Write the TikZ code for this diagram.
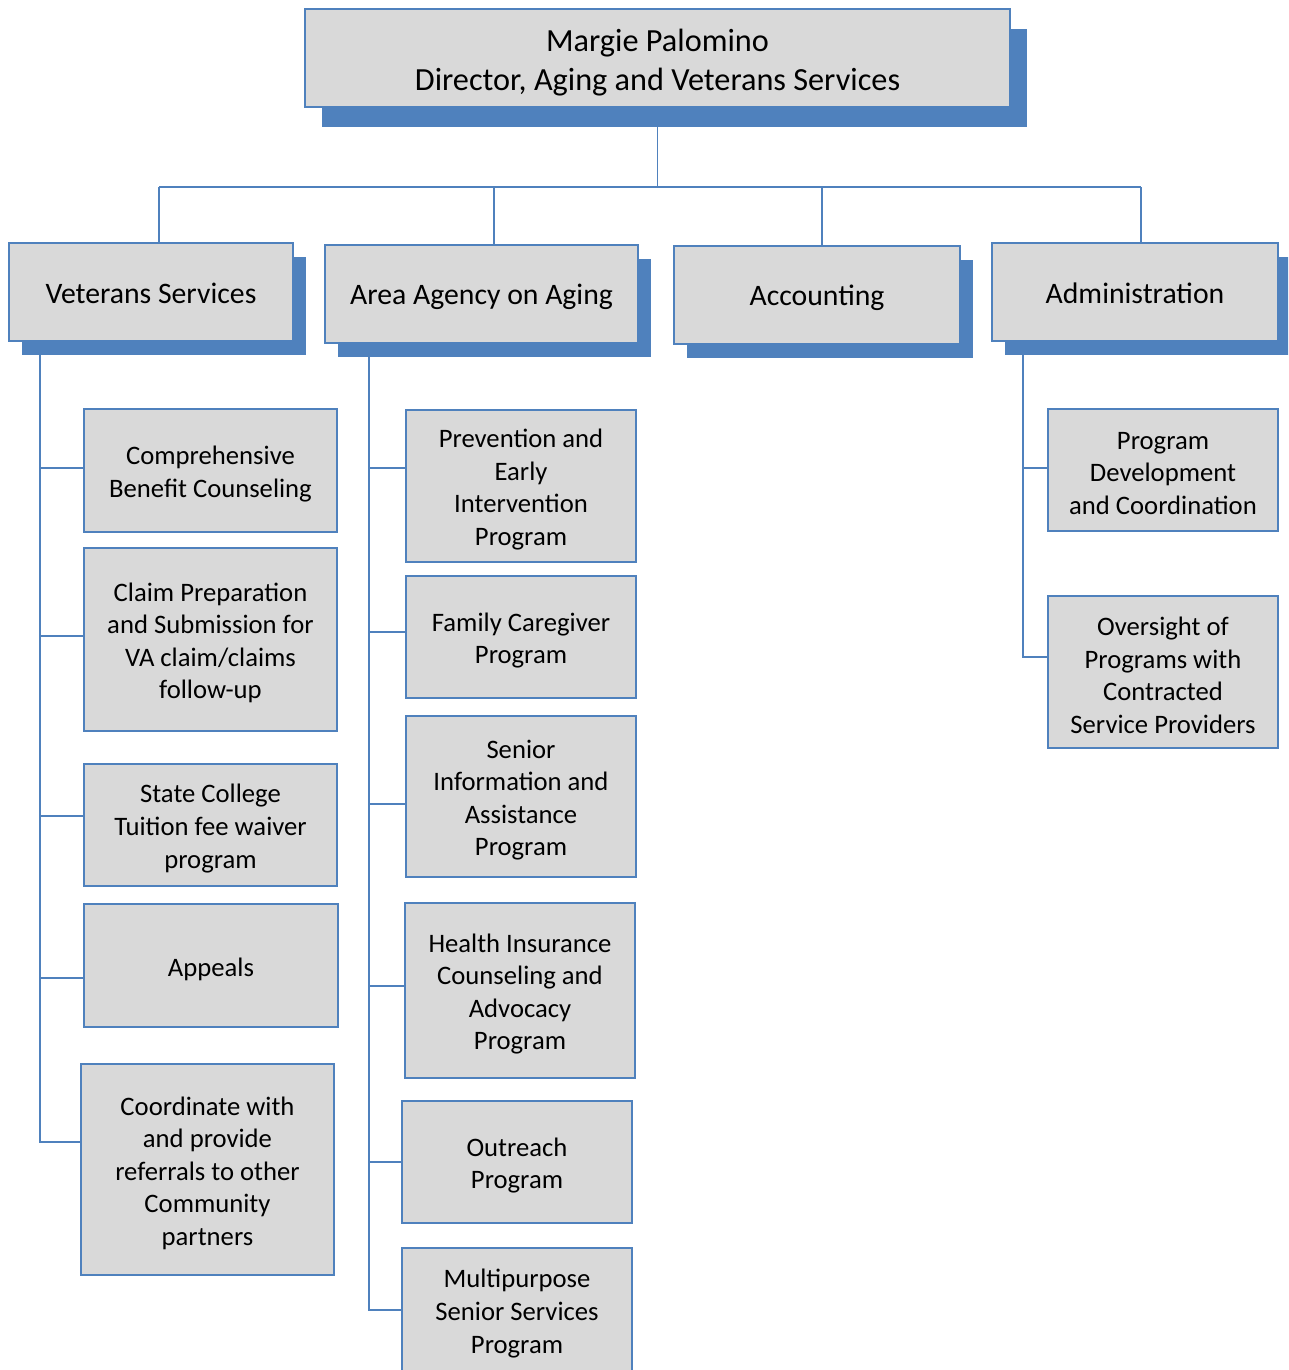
\documentclass[tikz,border=0pt]{standalone}
\usepackage{fontspec}
\setmainfont{Carlito}
\usetikzlibrary{shadows,backgrounds,calc}
\definecolor{boxfill}{HTML}{D9D9D9}
\definecolor{edge}{HTML}{4F81BD}
\tikzset{
  box/.style={draw=edge, fill=boxfill, line width=1.3pt, inner sep=0pt, outer sep=0pt},
  topbox/.style={box, drop shadow={shadow xshift=12.5pt, shadow yshift=-15pt, fill=edge, opacity=1}},
  midbox/.style={box, drop shadow={shadow xshift=9.4pt, shadow yshift=-10.8pt, fill=edge, opacity=1}},
  leafbox/.style={box},
  lbl/.style={inner sep=0pt, align=center, text=black},
  toptext/.style={lbl, font=\fontsize{24.2}{29.3}\selectfont},
  midtext/.style={lbl, font=\fontsize{22.3}{27}\selectfont},
  leaftext/.style={lbl, font=\fontsize{20}{24.4}\selectfont},
  conn/.style={draw=edge, line width=1.3pt}
}
% #1 shape style, #2 text style, #3 name, #4-#7 corners (px), #8 text shift (px), #9 text
\newcommand\bx[9]{%
  \pgfmathsetmacro\bxw{(#6-#4)*0.75}%
  \pgfmathsetmacro\bxh{(#7-#5)*0.75}%
  \node[#1, minimum width=\bxw pt, minimum height=\bxh pt] (#3) at ({(#4+#6)/2},{(#5+#7)/2}) {};
  \node[#2] (#3-t) at ($(#3.center)+(0,#8)$) {#9};}
\begin{document}
\begin{tikzpicture}[x=0.75pt,y=-0.75pt]
\useasboundingbox (0,0) rectangle (1288,1370);
\clip (0,0) rectangle (1288,1370);
% top
\bx{topbox}{toptext}{dir}{305}{9}{1010}{107}{4.5}{Margie Palomino\\Director, Aging and Veterans Services}
% level 2
\bx{midbox}{midtext}{vet}{9}{243}{293}{341}{1.5}{Veterans Services}
\bx{midbox}{midtext}{aaa}{325}{245}{638}{343}{2.5}{Area Agency on Aging}
\bx{midbox}{midtext}{acc}{674}{246}{960}{344}{2.5}{Accounting}
\bx{midbox}{midtext}{adm}{992}{243}{1278}{341}{1.5}{Administration}
% veterans children
\bx{leafbox}{leaftext}{v1}{84}{409}{337}{532}{3.5}{Comprehensive\\Benefit Counseling}
\bx{leafbox}{leaftext}{v2}{84}{548}{337}{731}{3.5}{Claim Preparation\\and Submission for\\VA claim/claims\\follow-up}
\bx{leafbox}{leaftext}{v3}{84}{764}{337}{886}{3.5}{State College\\Tuition fee waiver\\program}
\bx{leafbox}{leaftext}{v4}{84}{904}{338}{1027}{3.5}{Appeals}
\bx{leafbox}{leaftext}{v5}{81}{1064}{334}{1275}{3.5}{Coordinate with\\and provide\\referrals to other\\Community\\partners}
% aaa children
\bx{leafbox}{leaftext}{a1}{406}{410}{636}{562}{3.5}{Prevention and\\Early\\Intervention\\Program}
\bx{leafbox}{leaftext}{a2}{406}{576}{636}{698}{3.5}{Family Caregiver\\Program}
\bx{leafbox}{leaftext}{a3}{406}{716}{636}{877}{3.5}{Senior\\Information and\\Assistance\\Program}
\bx{leafbox}{leaftext}{a4}{405}{903}{635}{1078}{3.5}{Health Insurance\\Counseling and\\Advocacy\\Program}
\bx{leafbox}{leaftext}{a5}{402}{1101}{632}{1223}{3.5}{Outreach\\Program}
\bx{leafbox}{leaftext}{a6}{402}{1248}{632}{1372}{3.5}{Multipurpose\\Senior Services\\Program}
% admin children
\bx{leafbox}{leaftext}{d1}{1048}{409}{1278}{531}{3.5}{Program\\Development\\and Coordination}
\bx{leafbox}{leaftext}{d2}{1048}{596}{1278}{748}{3.5}{Oversight of\\Programs with\\Contracted\\Service Providers}
% connector coordinates
\coordinate (bL) at (159,187);
\coordinate (bA) at (494,187);
\coordinate (bC) at (822,187);
\coordinate (bR) at (1141,187);
\coordinate (vt) at (40,350);
\coordinate (at) at (369,352);
\coordinate (dt) at (1023,350);
\begin{scope}[on background layer]
\draw[conn] (dir.south) -- (dir.south |- bL);
\draw[conn] (bL) -- (bR);
\draw[conn] (bL) -- (bL |- vet.north);
\draw[conn] (bA) -- (bA |- aaa.north);
\draw[conn] (bC) -- (bC |- acc.north);
\draw[conn] (bR) -- (bR |- adm.north);
\foreach \c/\o in {v1/-2.5,v2/-3.5,v3/-9,v4/12.5,v5/-27.5}
  \draw[conn] (vt) |- ($(\c.west)+(0,\o)$);
\foreach \c/\o in {a1/-18,a2/-5,a3/7.5,a4/-4.5,a5/0,a6/0}
  \draw[conn] (at) |- ($(\c.west)+(0,\o)$);
\foreach \c/\o in {d1/-2,d2/-15}
  \draw[conn] (dt) |- ($(\c.west)+(0,\o)$);
\end{scope}
\end{tikzpicture}
\end{document}
